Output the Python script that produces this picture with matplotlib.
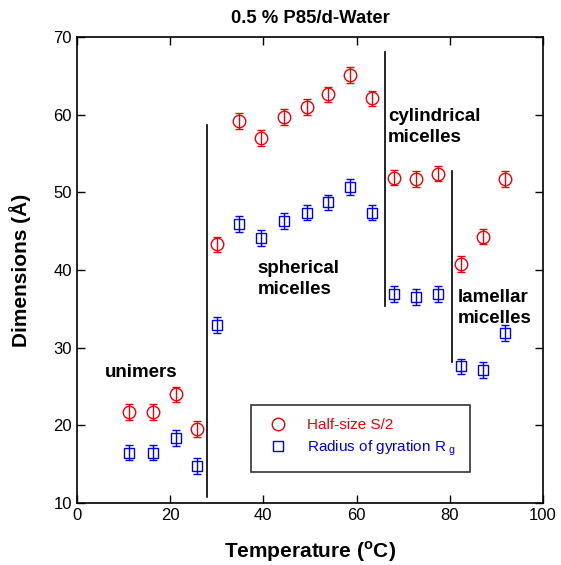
import matplotlib
matplotlib.use('Agg')
import matplotlib.pyplot as plt

plt.rcParams['font.family'] = ['Liberation Sans', 'DejaVu Sans']
plt.rcParams['mathtext.fontset'] = 'custom'
plt.rcParams['mathtext.rm'] = 'Liberation Sans'

# Temperature (deg C)
temperature = [11.2, 16.3, 21.2, 25.8, 30.0, 34.8, 39.5, 44.4, 49.4, 53.9,
               58.6, 63.3, 68.0, 72.7, 77.5, 82.4, 87.1, 91.8]
# Half-size S/2 (A)
half_size = [21.7, 21.7, 24.0, 19.5, 43.3, 59.2, 57.0, 59.7, 61.0, 62.6,
             65.1, 62.1, 51.9, 51.7, 52.4, 40.8, 44.3, 51.7]
half_size_err = [1.0] * 18
# Radius of gyration Rg (A)
rg = [16.5, 16.5, 18.4, 14.8, 32.9, 45.9, 44.1, 46.3, 47.4, 48.7,
      50.7, 47.4, 36.9, 36.5, 36.9, 27.6, 27.1, 31.9]
rg_err = [1.0] * 18

# phase boundary lines: (temperature, y_low, y_high)
boundaries = [(28.0, 10.8, 58.7), (66.0, 35.4, 68.1), (80.5, 28.2, 52.8)]
# region labels: (temperature, value, text)
regions = [(6.0, 26.8, 'unimers'),
           (38.8, 38.8, 'spherical\nmicelles'),
           (66.7, 58.4, 'cylindrical\nmicelles'),
           (81.8, 35.1, 'lamellar\nmicelles')]

fig = plt.figure(figsize=(5.61, 5.65), dpi=100)
ax = fig.add_axes([0.137, 0.1097, 0.831, 0.8248])

red = '#e8000b'
blue = '#0000e0'
eb1 = ax.errorbar(temperature, half_size, yerr=half_size_err, fmt='o', color=red,
                  mfc='none', mec=red, ms=9, mew=1.0, elinewidth=1.0, capsize=3)
eb2 = ax.errorbar(temperature, rg, yerr=rg_err, fmt='s', color=blue,
                  mfc='none', mec=blue, ms=7, mew=1.0, elinewidth=1.0, capsize=3)

for t, lo, hi in boundaries:
    ax.plot([t, t], [lo, hi], color='black', lw=1.2)

for t, v, s in regions:
    ax.text(t, v, s, fontsize=13.5, fontweight='bold', ha='left', va='center',
            linespacing=1.3)

ax.set_xlim(0, 100)
ax.set_ylim(10, 70)
ax.set_xticks(range(0, 101, 20))
ax.set_yticks(range(10, 71, 10))
ax.tick_params(direction='in', top=True, right=True, labelsize=12, length=6, width=1)
for sp in ax.spines.values():
    sp.set_linewidth(1.2)

ax.set_xlabel('Temperature ($^{\\mathregular{o}}$C)', fontsize=15, fontweight='bold', labelpad=12)
ax.set_ylabel('Dimensions (Å)', fontsize=15, fontweight='bold', labelpad=16)
ax.set_title('0.5 % P85/d-Water', fontsize=13.3, fontweight='bold', pad=10)

leg = ax.legend([eb1[0], eb2[0]],
                ['Half-size S/2', 'Radius of gyration R$_{\\ \\mathregular{g}}$'],
                loc='lower left', bbox_to_anchor=(0.373, 0.067), fontsize=11,
                frameon=True, fancybox=False, edgecolor='black', handletextpad=1.0,
                handlelength=1.8, borderpad=0.9, borderaxespad=0, labelspacing=0.4)
leg.get_frame().set_linewidth(1.2)
for txt, c in zip(leg.get_texts(), [red, blue]):
    txt.set_color(c)

fig.savefig('out.png', dpi=100)
